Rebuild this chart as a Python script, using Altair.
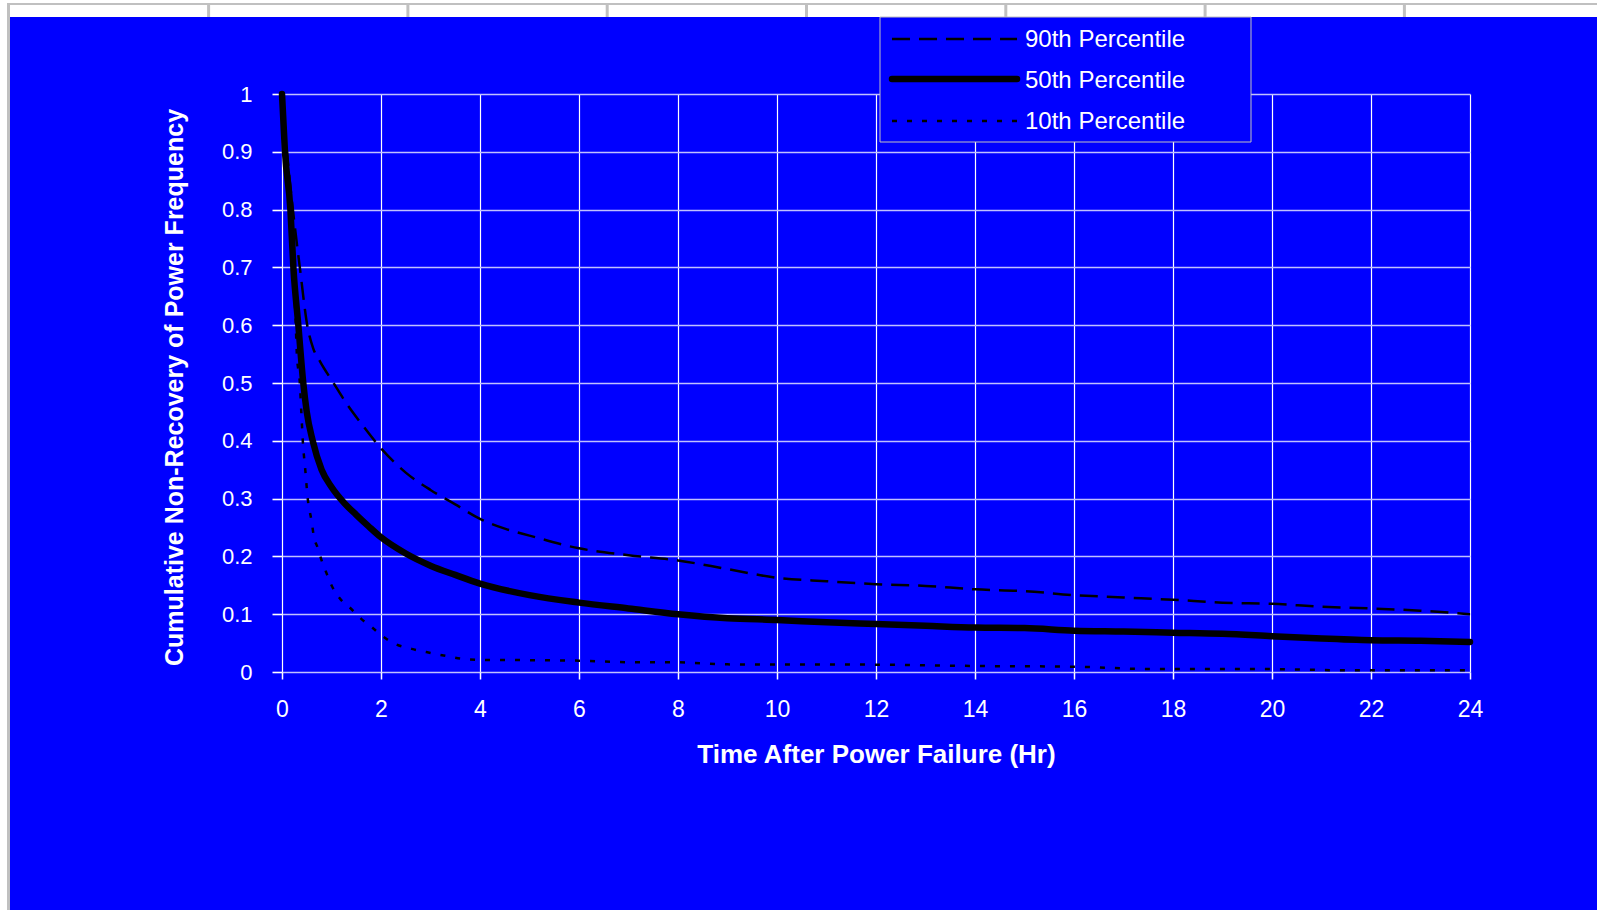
import altair as alt
import pandas as pd

# Hours after the power failure and cumulative non-recovery fraction for each percentile curve
hours_p90 = [0, 0.1, 0.22, 0.36, 0.51, 0.63, 0.77, 1.04, 1.3, 1.6, 2.0, 2.5, 3.0, 3.5, 4, 4.5,
             5, 6, 7, 8, 9, 10, 11, 12, 13, 14, 15, 16, 17, 18, 19, 20, 21, 22, 23, 24]
p90 = [1.0, 0.9, 0.8, 0.7, 0.6, 0.56, 0.537, 0.5, 0.465, 0.43, 0.387, 0.345, 0.315, 0.29,
       0.265, 0.248, 0.236, 0.214, 0.202, 0.193, 0.178, 0.163, 0.157, 0.152, 0.149, 0.143,
       0.14, 0.133, 0.129, 0.125, 0.12, 0.118, 0.113, 0.11, 0.106, 0.10]

hours_p50 = [0, 0.06, 0.17, 0.23, 0.33, 0.43, 0.5, 0.62, 0.8, 1.0, 1.25, 1.5, 1.75, 2.0, 2.5,
             3.0, 3.5, 4, 5, 6, 7, 8, 9, 10, 11, 12, 13, 14, 15, 16, 17, 18, 19, 20, 21, 22,
             23, 24]
p50 = [1.0, 0.9, 0.8, 0.7, 0.6, 0.5, 0.45, 0.4, 0.35, 0.32, 0.293, 0.272, 0.252, 0.233, 0.205,
       0.184, 0.168, 0.153, 0.133, 0.12, 0.11, 0.1, 0.093, 0.09, 0.086, 0.083, 0.08, 0.077,
       0.076, 0.0715, 0.07, 0.068, 0.066, 0.062, 0.058, 0.055, 0.054, 0.052]

hours_p10 = [0, 0.1, 0.2, 0.27, 0.3, 0.36, 0.39, 0.42, 0.47, 0.52, 0.6, 0.64, 0.72, 0.8, 0.89,
             1.0, 1.17, 1.4, 1.6, 1.81, 2.0, 2.3, 2.62, 3.0, 3.36, 3.66, 4, 5, 6, 7, 8, 9, 10,
             11, 12, 14, 16, 17.5, 20, 21.5, 24]
p10 = [1.0, 0.87, 0.72, 0.62, 0.55, 0.5, 0.45, 0.4, 0.35, 0.3, 0.26, 0.236, 0.215, 0.193,
       0.173, 0.15, 0.127, 0.109, 0.092, 0.078, 0.064, 0.048, 0.04, 0.033, 0.027, 0.0225,
       0.021, 0.0205, 0.0196, 0.017, 0.0167, 0.0132, 0.013, 0.013, 0.0127, 0.0104, 0.0092,
       0.0052, 0.005, 0.003, 0.003]

series_names = ["90th Percentile", "50th Percentile", "10th Percentile"]
x_ticks = [0, 2, 4, 6, 8, 10, 12, 14, 16, 18, 20, 22, 24]
y_ticks = [0, 0.1, 0.2, 0.3, 0.4, 0.5, 0.6, 0.7, 0.8, 0.9, 1]

frames = []
for name, hrs, vals in zip(series_names, [hours_p90, hours_p50, hours_p10], [p90, p50, p10]):
    frames.append(pd.DataFrame({"series": name, "hours": hrs, "value": vals}))
curves = pd.concat(frames, ignore_index=True)
legend_df = pd.DataFrame({"series": series_names})

# line style of each curve
styles = {
    "90th Percentile": dict(strokeWidth=2.5, strokeDash=[18, 9], strokeCap="butt"),
    "50th Percentile": dict(strokeWidth=6.5, strokeCap="round", strokeJoin="round"),
    "10th Percentile": dict(strokeWidth=2.5, strokeDash=[5, 10], strokeCap="butt"),
}

W, H = 1188, 578
PAD = {"left": 282, "top": 94, "right": 127, "bottom": 238}
BLUE = "#0000FF"
GRAY = "#C0C0C0"
FONT = "Arial"

x_scale = alt.Scale(domain=[0, 24], nice=False, zero=False)
y_scale = alt.Scale(domain=[0, 1], nice=False)

x_axis = alt.Axis(
    values=x_ticks, title="Time After Power Failure (Hr)", grid=True, gridColor="#FFFFFF",
    gridWidth=1.2, domain=False, tickSize=7, tickColor="#FFFFFF", tickWidth=1.5,
    labelFont=FONT, labelFontSize=23, labelColor="#FFFFFF", labelPadding=19,
    labelFlush=False, titleFont=FONT, titleFontSize=26, titleFontWeight="bold",
    titleColor="#FFFFFF", titleX=W / 2, titleY=90, titleAlign="center",
    titleBaseline="alphabetic",
)
y_axis = alt.Axis(
    values=y_ticks, format="~g", title="Cumulative Non-Recovery of Power Frequency",
    grid=True, gridColor="#C0C0FF", gridWidth=1.6, domain=False, tickSize=10,
    tickColor="#FFFFFF", tickWidth=1.6, labelFont=FONT, labelFontSize=22,
    labelColor="#FFFFFF", labelPadding=20, titleFont=FONT, titleFontSize=25,
    titleFontWeight="bold", titleColor="#FFFFFF", titleAngle=270, titleX=-100,
    titleY=293, titleAlign="center", titleBaseline="alphabetic",
)

one_row = alt.Data(values=[{}])


def block(x0, x1, y0, y1, color):
    return alt.Chart(one_row).mark_rect(color=color).encode(
        x=alt.value(x0), x2=alt.value(x1), y=alt.value(y0), y2=alt.value(y1)
    )


layers = []

# curves
for name in ["10th Percentile", "90th Percentile", "50th Percentile"]:
    layers.append(
        alt.Chart(curves)
        .transform_filter(alt.datum.series == name)
        .mark_line(color="black", interpolate="monotone", **styles[name])
        .encode(
            x=alt.X("hours:Q", scale=x_scale, axis=x_axis),
            y=alt.Y("value:Q", scale=y_scale, axis=y_axis),
        )
    )

# worksheet frame around the chart area
layers.append(block(-282, 1315, -94, -77, "#FFFFFF"))
layers.append(block(-282, -272, -94, 816, "#FFFFFF"))
layers.append(block(-275, -272, -91, 816, GRAY))
layers.append(block(-275, 1315, -91, -89, GRAY))
for k in range(1, 8):
    cx = 9.3 + 199.3 * k - PAD["left"]
    layers.append(block(cx - 1.5, cx + 1.5, -91, -77, GRAY))

# legend box
layers.append(
    alt.Chart(one_row)
    .mark_rect(fill=BLUE, stroke=GRAY, strokeWidth=1)
    .encode(x=alt.value(598), x2=alt.value(969), y=alt.value(-77), y2=alt.value(48))
)
symbol_y = [-55, -15, 27]
label_y = [-47, -6, 35]
for name, sy, ty in zip(series_names, symbol_y, label_y):
    layers.append(
        alt.Chart(one_row)
        .mark_rule(color="black", **styles[name])
        .encode(x=alt.value(610), x2=alt.value(735), y=alt.value(sy))
    )
    layers.append(
        alt.Chart(legend_df)
        .transform_filter(alt.datum.series == name)
        .mark_text(align="left", baseline="alphabetic", font=FONT, fontSize=24,
                   color="#FFFFFF")
        .encode(x=alt.value(743), y=alt.value(ty), text="series:N")
    )

chart = (
    alt.layer(*layers)
    .properties(
        width=W, height=H, padding=PAD, background=BLUE,
        autosize=alt.AutoSizeParams(type="none"),
    )
    .configure_view(strokeWidth=0)
)

chart.save("out.html", embed_options={"renderer": "svg", "actions": False})
